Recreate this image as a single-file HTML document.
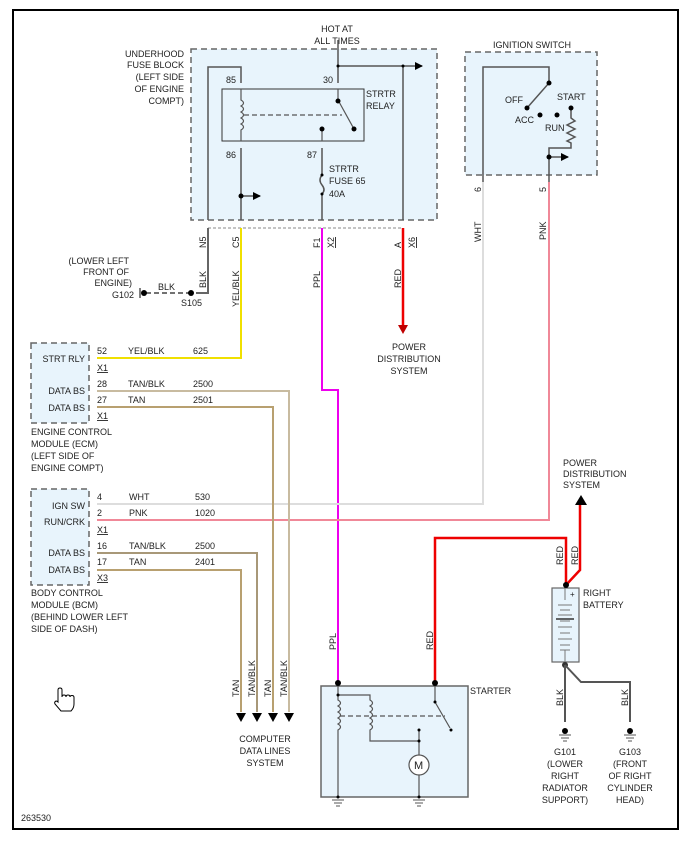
<!DOCTYPE html>
<html><head><style>
html,body{margin:0;padding:0;background:#fff}
svg{display:block}
text{font-family:"Liberation Sans",sans-serif;font-size:9px;fill:#222}
</style></head><body>
<svg width="692" height="847" viewBox="0 0 692 847" xmlns="http://www.w3.org/2000/svg">
<defs>
<marker id="ar" markerWidth="8" markerHeight="8" refX="7" refY="4" orient="auto" markerUnits="userSpaceOnUse"><path d="M0,0 L8,4 L0,8 z" fill="#000"/></marker>
</defs>
<rect x="13" y="10" width="665" height="819" fill="none" stroke="#000" stroke-width="2"/>

<rect x="191" y="49" width="246" height="171" fill="#e8f4fc" stroke="#666" stroke-width="1.5" stroke-dasharray="6,4"/>
<text x="337" y="32" text-anchor="middle">HOT AT</text>
<text x="337" y="44" text-anchor="middle">ALL TIMES</text>
<g text-anchor="end"><text x="184" y="57">UNDERHOOD</text><text x="184" y="68">FUSE BLOCK</text><text x="184" y="80">(LEFT SIDE</text><text x="184" y="92">OF ENGINE</text><text x="184" y="104">COMPT)</text></g>
<g stroke="#555" stroke-width="1.5" fill="none">
<path d="M338 40 V83"/><path d="M338 66 H422" marker-end="url(#ar)"/>
<path d="M403 66 V220"/>
<path d="M208 220 V67 H241 V83"/>
<path d="M241 148 V220"/><path d="M241 196 H260" marker-end="url(#ar)"/>
<path d="M322 148 V175"/><path d="M322 175 q-4 5 0 10 q4 5 0 9"/><path d="M322 194 V220"/>
</g>
<rect x="222" y="89" width="142" height="52" fill="none" stroke="#333" stroke-width="1"/>
<g stroke="#555" stroke-width="1.2" fill="none">
<path d="M241 89 V100 q5 3 0 6 q5 3 0 6 q5 3 0 6 q5 3 0 6 q5 3 0 6 V141"/>
<path d="M338 89 V100"/><path d="M338 100 L354 129"/><path d="M322 129 V141"/>
<path d="M244 115 H342" stroke-dasharray="5,3"/>
</g>
<g fill="#000"><circle cx="241" cy="196" r="2.5"/><circle cx="338" cy="101" r="2.5"/><circle cx="354" cy="129" r="2.5"/><circle cx="322" cy="129" r="2.5"/><circle cx="322" cy="175" r="1.5"/><circle cx="322" cy="194" r="1.5"/><circle cx="338" cy="66" r="1.5"/><circle cx="403" cy="66" r="1.5"/></g>
<text x="226" y="83">85</text><text x="323" y="83">30</text><text x="226" y="158">86</text><text x="307" y="158">87</text>
<text x="366" y="97">STRTR</text><text x="366" y="109">RELAY</text>
<text x="329" y="172">STRTR</text><text x="329" y="184">FUSE 65</text><text x="329" y="197">40A</text>
<path d="M208 228 H403" stroke="#888" stroke-dasharray="3,2" fill="none"/>
<g transform="translate(206,248) rotate(-90)"><text>N5</text></g>
<g transform="translate(239,248) rotate(-90)"><text>C5</text></g>
<g transform="translate(320,248) rotate(-90)"><text>F1</text></g>
<g transform="translate(334,248) rotate(-90)"><text text-decoration="underline">X2</text></g>
<g transform="translate(401,248) rotate(-90)"><text>A</text></g>
<g transform="translate(415,248) rotate(-90)"><text text-decoration="underline">X6</text></g>

<path d="M208 228 V293 H196" stroke="#666" stroke-width="2" fill="none"/>
<path d="M191 293 H145" stroke="#444" stroke-width="1.5" stroke-dasharray="5,3" fill="none"/>
<circle cx="191" cy="293" r="3" fill="#000"/><circle cx="144" cy="293" r="3" fill="#000"/>
<path d="M140 288 V298" stroke="#000"/>
<g transform="translate(206,288) rotate(-90)"><text>BLK</text></g>
<text x="158" y="290">BLK</text><text x="181" y="306">S105</text>
<text x="134" y="298" text-anchor="end">G102</text>
<g text-anchor="end"><text x="129" y="264">(LOWER LEFT</text><text x="129" y="275">FRONT OF</text><text x="132" y="286">ENGINE)</text></g>
<path d="M241 228 V358 H97" stroke="#f0e000" stroke-width="2" fill="none"/>
<g transform="translate(239,307) rotate(-90)"><text>YEL/BLK</text></g>
<path d="M322 228 V390 H338 V683" stroke="#ee00ee" stroke-width="2" fill="none"/>
<g transform="translate(320,288) rotate(-90)"><text>PPL</text></g>
<g transform="translate(336,650) rotate(-90)"><text>PPL</text></g>
<path d="M403 228 V325" stroke="#ee0000" stroke-width="2.5" fill="none"/>
<path d="M398 325 L403 334 L408 325 z" fill="#c00000"/>
<g transform="translate(401,288) rotate(-90)"><text>RED</text></g>
<g text-anchor="middle"><text x="409" y="350">POWER</text><text x="409" y="362">DISTRIBUTION</text><text x="409" y="374">SYSTEM</text></g>

<rect x="465" y="52" width="132" height="123" fill="#e8f4fc" stroke="#666" stroke-width="1.5" stroke-dasharray="6,4"/>
<text x="532" y="48" text-anchor="middle">IGNITION SWITCH</text>
<g stroke="#555" stroke-width="1.5" fill="none">
<path d="M483 182 V67 H549 V83 L527 108"/>
<path d="M571 108 V118 l4 3 l-8 4 l8 4 l-8 4 l8 4 l-8 4 l4 2 V148 H549 V182"/>
<path d="M549 157 H568" marker-end="url(#ar)"/>
</g>
<g fill="#000"><circle cx="549" cy="83" r="2.5"/><circle cx="527" cy="108" r="2.5"/><circle cx="540" cy="115" r="2.5"/><circle cx="557" cy="115" r="2.5"/><circle cx="571" cy="108" r="2.5"/><circle cx="549" cy="157" r="2.5"/></g>
<text x="505" y="103">OFF</text><text x="515" y="123">ACC</text><text x="557" y="100">START</text><text x="545" y="131">RUN</text>
<g transform="translate(481,192) rotate(-90)"><text>6</text></g>
<g transform="translate(546,192) rotate(-90)"><text>5</text></g>
<g transform="translate(481,242) rotate(-90)"><text>WHT</text></g>
<g transform="translate(546,240) rotate(-90)"><text>PNK</text></g>
<path d="M483 182 V504 H97" stroke="#dddddd" stroke-width="2" fill="none"/>
<path d="M549 182 V520 H97" stroke="#f08898" stroke-width="2" fill="none"/>

<rect x="31" y="343" width="58" height="80" fill="#e8f4fc" stroke="#666" stroke-width="1.5" stroke-dasharray="6,4"/>
<g text-anchor="end"><text x="85" y="362">STRT RLY</text><text x="85" y="394">DATA BS</text><text x="85" y="411">DATA BS</text></g>
<text x="97" y="354">52</text><text x="97" y="371" text-decoration="underline">X1</text><text x="97" y="387">28</text><text x="97" y="403">27</text><text x="97" y="419" text-decoration="underline">X1</text>
<text x="128" y="354">YEL/BLK</text><text x="193" y="354">625</text>
<text x="128" y="387">TAN/BLK</text><text x="193" y="387">2500</text>
<text x="128" y="403">TAN</text><text x="193" y="403">2501</text>
<text x="31" y="435">ENGINE CONTROL</text><text x="31" y="447">MODULE (ECM)</text><text x="31" y="459">(LEFT SIDE OF</text><text x="31" y="471">ENGINE COMPT)</text>
<path d="M97 391 H289 V712" stroke="#c8bba0" stroke-width="2" fill="none"/>
<path d="M97 407 H273 V712" stroke="#b8a070" stroke-width="2" fill="none"/>

<rect x="31" y="489" width="58" height="96" fill="#e8f4fc" stroke="#666" stroke-width="1.5" stroke-dasharray="6,4"/>
<g text-anchor="end"><text x="85" y="509">IGN SW</text><text x="85" y="525">RUN/CRK</text><text x="85" y="556">DATA BS</text><text x="85" y="573">DATA BS</text></g>
<text x="97" y="500">4</text><text x="97" y="516">2</text><text x="97" y="533" text-decoration="underline">X1</text><text x="97" y="549">16</text><text x="97" y="565">17</text><text x="97" y="581" text-decoration="underline">X3</text>
<text x="129" y="500">WHT</text><text x="195" y="500">530</text>
<text x="129" y="516">PNK</text><text x="195" y="516">1020</text>
<text x="129" y="549">TAN/BLK</text><text x="195" y="549">2500</text>
<text x="129" y="565">TAN</text><text x="195" y="565">2401</text>
<text x="31" y="596">BODY CONTROL</text><text x="31" y="608">MODULE (BCM)</text><text x="31" y="620">(BEHIND LOWER LEFT</text><text x="31" y="632">SIDE OF DASH)</text>
<path d="M97 553 H257 V712" stroke="#a89878" stroke-width="2" fill="none"/>
<path d="M97 570 H241 V712" stroke="#b8a070" stroke-width="2" fill="none"/>
<g fill="#000"><path d="M236 713 h10 l-5 9 z"/><path d="M252 713 h10 l-5 9 z"/><path d="M268 713 h10 l-5 9 z"/><path d="M284 713 h10 l-5 9 z"/></g>
<g transform="translate(239,697) rotate(-90)"><text>TAN</text></g>
<g transform="translate(255,697) rotate(-90)"><text>TAN/BLK</text></g>
<g transform="translate(271,697) rotate(-90)"><text>TAN</text></g>
<g transform="translate(287,697) rotate(-90)"><text>TAN/BLK</text></g>
<g text-anchor="middle"><text x="265" y="742">COMPUTER</text><text x="265" y="754">DATA LINES</text><text x="265" y="766">SYSTEM</text></g>

<rect x="321" y="686" width="147" height="111" fill="#e8f4fc" stroke="#666" stroke-width="1.5"/>
<text x="470" y="694">STARTER</text>
<path d="M435 683 V538 H566 V585" stroke="#ee0000" stroke-width="2.5" fill="none"/>
<g transform="translate(433,650) rotate(-90)"><text>RED</text></g>
<g stroke="#555" stroke-width="1.2" fill="none">
<path d="M338 686 V700 q5 3 0 6 q5 3 0 6 q5 3 0 6 q5 3 0 6 q5 3 0 6 V797"/>
<path d="M338 695 H370 V700 q5 3 0 6 q5 3 0 6 q5 3 0 6 q5 3 0 6 q5 3 0 6 V741 H419"/>
<path d="M419 730 V755 M419 775 V797"/>
<path d="M435 686 V702 L450 728"/>
<path d="M340 716 H445" stroke-dasharray="5,3"/>
</g>
<circle cx="419" cy="765" r="10" fill="#fff" stroke="#555" stroke-width="1.2"/>
<text x="414" y="769" style="font-size:11px">M</text>
<g fill="#000"><circle cx="338" cy="683" r="3"/><circle cx="435" cy="683" r="3"/><circle cx="338" cy="695" r="1.5"/><circle cx="419" cy="741" r="1.5"/><circle cx="419" cy="730" r="1.5"/><circle cx="435" cy="702" r="1.5"/><circle cx="451" cy="730" r="1.5"/><circle cx="338" cy="797" r="1.5"/><circle cx="419" cy="797" r="1.5"/></g>
<g stroke="#555" stroke-width="1"><path d="M332 800 h12 M334 803 h8 M336 806 h4"/><path d="M413 800 h12 M415 803 h8 M417 806 h4"/></g>

<path d="M566 585 L580 570 V505" stroke="#ee0000" stroke-width="2.5" fill="none"/>
<path d="M575 505 L581 495 L587 505 z" fill="#000"/>
<g transform="translate(563,565) rotate(-90)"><text>RED</text></g>
<g transform="translate(578,565) rotate(-90)"><text>RED</text></g>
<text x="563" y="466">POWER</text><text x="563" y="477">DISTRIBUTION</text><text x="563" y="488">SYSTEM</text>
<rect x="552" y="588" width="27" height="74" fill="#e8f4fc" stroke="#666" stroke-width="1.2"/>
<g stroke="#777" stroke-width="1"><path d="M565 588 V600 M558 605 h14 M560 610 h10 M558 615 h14 M560 621 h10 M558 627 h14 M560 633 h10 M558 639 h14 M560 645 h10 M560 650 h10 M565 650 V662"/><path d="M556 619 h18" stroke="#333" stroke-width="1.5"/></g>
<text x="570" y="597" style="font-size:8px">+</text>
<text x="583" y="596">RIGHT</text><text x="583" y="608">BATTERY</text>
<circle cx="566" cy="585" r="3" fill="#000"/>
<circle cx="565" cy="665" r="3" fill="#333"/>
<path d="M565 665 V722 M565 665 L581 682 H630 V722" stroke="#555" stroke-width="2" fill="none"/>
<g transform="translate(563,706) rotate(-90)"><text>BLK</text></g>
<g transform="translate(628,706) rotate(-90)"><text>BLK</text></g>
<circle cx="565" cy="731" r="3" fill="#000"/><circle cx="630" cy="731" r="3" fill="#000"/>
<g stroke="#555" stroke-width="1"><path d="M559 735 h12 M561 738 h8 M563 741 h4"/><path d="M624 735 h12 M626 738 h8 M628 741 h4"/></g>
<g text-anchor="middle"><text x="565" y="755">G101</text><text x="565" y="767">(LOWER</text><text x="565" y="779">RIGHT</text><text x="565" y="791">RADIATOR</text><text x="565" y="803">SUPPORT)</text>
<text x="630" y="755">G103</text><text x="630" y="767">(FRONT</text><text x="630" y="779">OF RIGHT</text><text x="630" y="791">CYLINDER</text><text x="630" y="803">HEAD)</text></g>

<path d="M58 700 V690 q0-2 2-2 q2 0 2 2 V697 q0-2 2-2 q2 0 2 2 q0-2 2-2 q2 0 2 2 q0-1.5 2-1.5 q2 0 2 2 V704 q0 4-3 7 H61 L55 704 q-1-2 1-3 q1 0 2 1 z" fill="#fff" stroke="#000" stroke-width="1"/>
<text x="21" y="821">263530</text>
</svg>
</body></html>
